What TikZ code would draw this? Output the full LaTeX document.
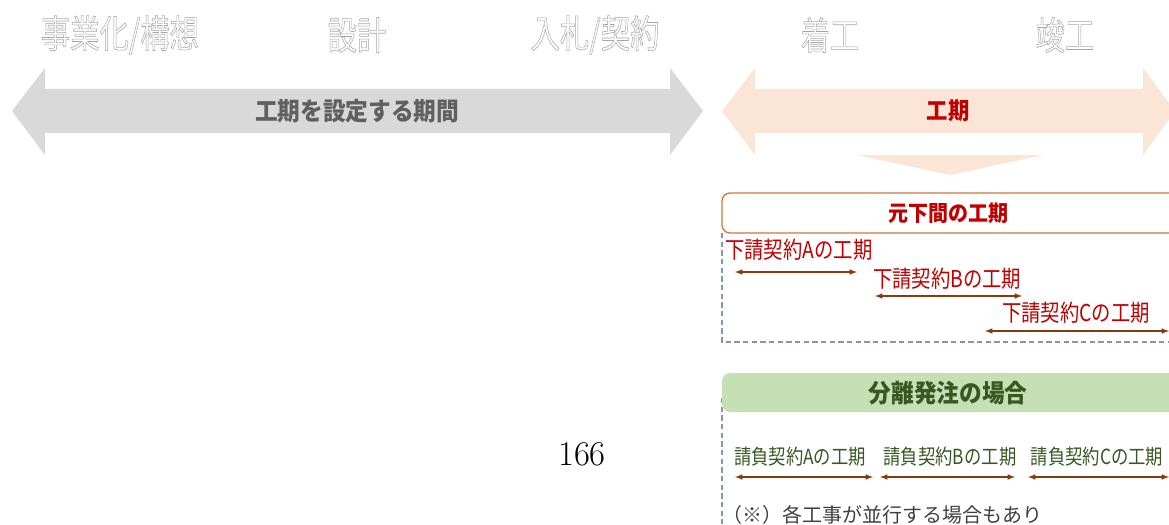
\documentclass[tikz,border=0pt]{standalone}
\usepackage{fontspec}
\newfontfamily\jp{Noto Sans CJK JP}
\usetikzlibrary{arrows,positioning}
\definecolor{kgray}{HTML}{D9D9D9}
\definecolor{kpeach}{HTML}{FBE5D6}
\definecolor{kred}{HTML}{C00000}
\definecolor{korange}{HTML}{C9783F}
\definecolor{kbrown}{HTML}{843C0C}
\definecolor{kblue}{HTML}{8497B0}
\definecolor{kgreen}{HTML}{C5E0B4}
\definecolor{kdgreen}{HTML}{385723}
\newcommand{\tall}[2]{\scalebox{1}[#1]{#2}}
\newcommand{\hollow}[1]{\special{pdf:literal direct 1 Tr 0.35 w}#1\special{pdf:literal direct 0 Tr}}
\tikzset{
  phase/.style={font=\jp\fontsize{22}{24}\selectfont,text=gray!70},
  sub/.style={anchor=west,inner sep=0pt,font=\jp\fontsize{14.5}{16}\selectfont,text=kred},
  ukeoi/.style={inner sep=0pt,font=\jp\fontsize{13}{15}\selectfont,text=kdgreen},
  span/.style={kbrown,line width=0.9pt,latex-latex},
}
\begin{document}
\begin{tikzpicture}[x=0.75pt,y=-0.75pt]
\useasboundingbox (0,0) rectangle (1169,524);
% phases
\node[phase] (jigyo) at (120,35) {\tall{1.3}{\hollow{事業化/構想}}};
\node[phase] (sekkei) at (357,35) {\tall{1.3}{\hollow{設計}}};
\node[phase] (nyusatsu) at (595,35) {\tall{1.3}{\hollow{入札/契約}}};
\node[phase] (chakko) at (830,35) {\tall{1.3}{\hollow{着工}}};
\node[phase] (shunko) at (1065,35) {\tall{1.3}{\hollow{竣工}}};
% big arrows
\fill[kgray] (12,111)--(45,68)--(45,89)--(670,89)--(670,68)--(703,111)
  --(670,155)--(670,133)--(45,133)--(45,155)--cycle;
\node[font=\jp\bfseries\fontsize{17}{19}\selectfont,text=gray!75!black] (settei) at (357,111) {\tall{1.1}{工期を設定する期間}};
\fill[kpeach] (722,111)--(755,68)--(755,89)--(1143,89)--(1143,68)--(1175,111)
  --(1143,155)--(1143,133)--(755,133)--(755,155)--cycle;
\node[font=\jp\bfseries\fontsize{16}{18}\selectfont,text=kred] (koki) at (948,111) {\tall{1.1}{工期}};
\fill[kpeach] (857,155)--(1043,155)--(950,175)--cycle;
% 元下間
\draw[kblue,dash pattern=on 4pt off 2.5pt,line width=0.8pt] (722,233)--(722,342)--(1180,342);
\draw[korange,line width=1pt,fill=white,rounded corners=6pt] (722,193) rectangle (1185,233);
\node[font=\jp\bfseries\fontsize{15}{17}\selectfont,text=kred] (motoshita) at (948,213) {\tall{1.1}{元下間の工期}};
\node[sub] (subA) at (725,250) {\tall{1.2}{下請契約Aの工期}};
\node[sub] (subB) at (873,279) {\tall{1.2}{下請契約Bの工期}};
\node[sub] (subC) at (1002,313) {\tall{1.2}{下請契約Cの工期}};
\coordinate (a1) at (735,272); \coordinate (a2) at (857,272);
\coordinate (b1) at (875,296); \coordinate (b2) at (1022,296);
\coordinate (c1) at (985,331); \coordinate (c2) at (1169,331);
\draw[span] (a1) -- (a2);
\draw[span] (b1) -- (b2);
\draw[span] (c1) -- (c2);
% 分離発注
\draw[kblue,dash pattern=on 4pt off 2.5pt,line width=0.8pt] (722,398)--(722,524);
\fill[kgreen,rounded corners=6pt] (722,373) rectangle (1185,412);
\node[font=\jp\bfseries\fontsize{17}{19}\selectfont,text=kdgreen] (bunri) at (948,393) {\tall{1.1}{分離発注の場合}};
\node[ukeoi] (ukA) at (800,457) {\tall{1.2}{請負契約Aの工期}};
\node[ukeoi] (ukB) at (950,457) {\tall{1.2}{請負契約Bの工期}};
\node[ukeoi] (ukC) at (1097,457) {\tall{1.2}{請負契約Cの工期}};
\coordinate (d1) at (735,477); \coordinate (d2) at (873,477);
\coordinate (e1) at (880,477); \coordinate (e2) at (1015,477);
\coordinate (f1) at (1028,477); \coordinate (f2) at (1169,477);
\draw[span] (d1) -- (d2);
\draw[span] (e1) -- (e2);
\draw[span] (f1) -- (f2);
\node[anchor=west,inner sep=0pt,font=\jp\fontsize{15}{17}\selectfont,text=black!75] (note) at (722,515) {（※）各工事が並行する場合もあり};
% page number
\node[font=\fontsize{26}{30}\selectfont] (page) at (582,454) {166};
\end{tikzpicture}
\end{document}
